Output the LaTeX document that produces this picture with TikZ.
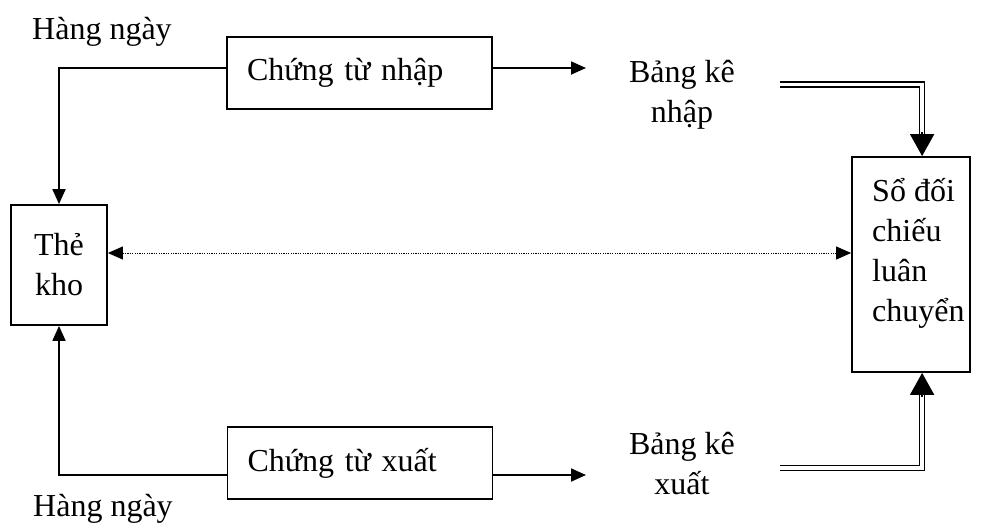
\documentclass[tikz,border=0pt]{standalone}
\usepackage{fontspec}
\setmainfont{Liberation Serif}
\usetikzlibrary{arrows.meta,calc}
\begin{document}
\begin{tikzpicture}[x=1pt,y=-1pt,
  every node/.style={font=\fontsize{32}{40}\selectfont},
  box/.style={draw, line width=1.8pt, inner sep=0pt},
  docbox/.style={box, minimum width=265pt, minimum height=72pt, text width=225pt, inner xsep=20pt, align=left},
  conn/.style={line width=1.8pt, -{Triangle[length=15pt,width=13pt]}},
  dotconn/.style={line width=1pt, dash pattern=on 1.2pt off 1.2pt, {Triangle[length=15pt,width=13pt]}-{Triangle[length=15pt,width=13pt]}},
  dbl/.style={draw, line width=1.6pt, double, double distance=3.4pt},
  bigtip/.style={line width=1.8pt, -{Triangle[length=22pt,width=24pt]}},
  plain/.style={inner sep=0pt, align=center}
]
\useasboundingbox (0,0) rectangle (984,525);

% boxes
\node[docbox] (nhap) at (359.5,73) {Chứng từ nhập};
\node[docbox] (xuat) at (360,463) {Chứng từ xuất};
\node[box, minimum width=96pt, minimum height=120pt, align=center] (thekho) at (59,265) {Thẻ\\kho};
\node[box, minimum width=118pt, minimum height=215pt] (so) at (911,264.5) {};
\node[plain, align=left, anchor=north west] (sotext) at (872,178) {Sổ đối\\chiếu\\luân\\chuyển};

% free texts
\node[plain, anchor=base west] (hn1) at (32,39) {Hàng ngày};
\node[plain, anchor=base west] (hn2) at (33,516) {Hàng ngày};
\node[plain] (bknhap) at (682,95) {Bảng kê\\nhập};
\node[plain] (bkxuat) at (682,464) {Bảng kê\\xuất};

% coordinates
\coordinate (a1) at (586,68);
\coordinate (a2) at (586,475);
\coordinate (d1) at (780,84.5);
\coordinate (d2) at (780,468);
\coordinate (sotop) at ($(so.north west)+(71,0)$);
\coordinate (sobot) at ($(so.south west)+(71,0)$);

% connectors
\draw[conn] ([yshift=5pt]nhap.west) -| (thekho.north);
\draw[conn] ([yshift=-12pt]xuat.west) -| (thekho.south);
\draw[conn] ([yshift=5pt]nhap.east) -- (a1);
\draw[conn] ([yshift=-12pt]xuat.east) -- (a2);
\draw[dotconn] ([yshift=12pt]thekho.east) -- ([yshift=12pt]thekho.east -| so.west);

\draw[dbl] (d1) -| ($(sotop)+(0,-20)$);
\draw[bigtip] ($(sotop)+(0,-24)$) -- (sotop);
\draw[dbl] (d2) -| ($(sobot)+(0,20)$);
\draw[bigtip] ($(sobot)+(0,24)$) -- (sobot);
\end{tikzpicture}
\end{document}
